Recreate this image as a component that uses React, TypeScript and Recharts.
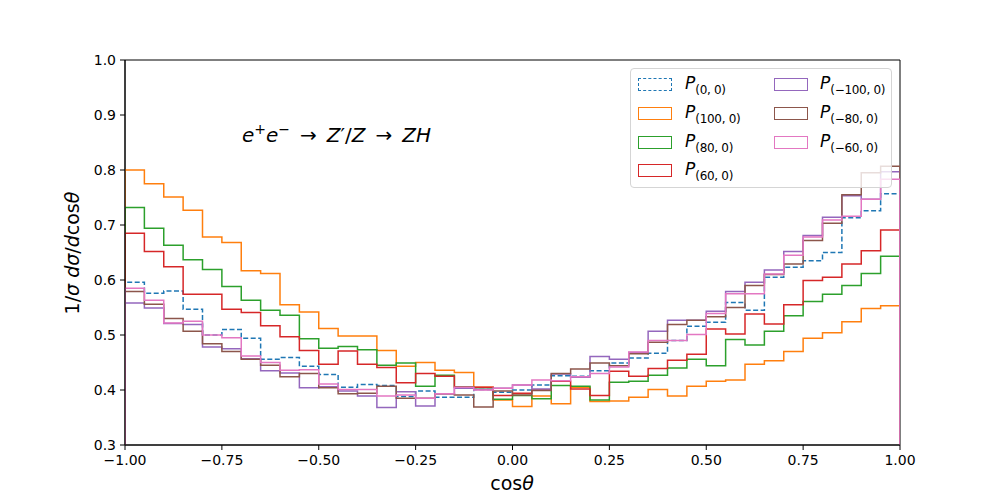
import React from 'react';
import { LineChart, Line, XAxis, YAxis, ReferenceArea } from 'recharts';

// bin edges of the cos(theta) histogram
const binEdges = [
  -1, -0.95, -0.9, -0.85, -0.8, -0.75, -0.7, -0.65, -0.6, -0.55,
  -0.5, -0.45, -0.4, -0.35, -0.3, -0.25, -0.2, -0.15, -0.1, -0.05,
  0, 0.05, 0.1, 0.15, 0.2, 0.25, 0.3, 0.35, 0.4, 0.45,
  0.5, 0.55, 0.6, 0.65, 0.7, 0.75, 0.8, 0.85, 0.9, 0.95, 1,
];

const xTicks = [-1, -0.75, -0.5, -0.25, 0, 0.25, 0.5, 0.75, 1];
const yTicks = [0.3, 0.4, 0.5, 0.6, 0.7, 0.8, 0.9, 1.0];

// normalised distributions, one value per bin
const p00 = [
  0.596, 0.576, 0.580, 0.547, 0.500, 0.510, 0.494, 0.456, 0.459, 0.443,
  0.428, 0.405, 0.410, 0.408, 0.388, 0.398, 0.387, 0.387, 0.401, 0.396,
  0.400, 0.409, 0.426, 0.425, 0.435, 0.449, 0.458, 0.467, 0.490, 0.516,
  0.523, 0.559, 0.545, 0.605, 0.623, 0.635, 0.650, 0.713, 0.726, 0.757,
];
const p100 = [
  0.800, 0.775, 0.751, 0.727, 0.678, 0.668, 0.617, 0.612, 0.555, 0.542,
  0.512, 0.498, 0.498, 0.472, 0.443, 0.450, 0.436, 0.432, 0.405, 0.382,
  0.370, 0.389, 0.375, 0.405, 0.379, 0.380, 0.387, 0.401, 0.389, 0.407,
  0.416, 0.418, 0.447, 0.453, 0.470, 0.494, 0.504, 0.524, 0.548, 0.553,
];
const p80 = [
  0.732, 0.694, 0.663, 0.637, 0.619, 0.588, 0.563, 0.545, 0.536, 0.493,
  0.476, 0.479, 0.473, 0.445, 0.449, 0.407, 0.427, 0.406, 0.404, 0.383,
  0.390, 0.384, 0.408, 0.407, 0.382, 0.414, 0.416, 0.427, 0.440, 0.456,
  0.444, 0.492, 0.482, 0.507, 0.535, 0.561, 0.574, 0.590, 0.612, 0.643,
];
const p60 = [
  0.685, 0.652, 0.624, 0.574, 0.574, 0.547, 0.541, 0.517, 0.497, 0.472,
  0.447, 0.471, 0.447, 0.441, 0.413, 0.430, 0.425, 0.405, 0.405, 0.390,
  0.394, 0.400, 0.416, 0.402, 0.390, 0.434, 0.425, 0.439, 0.454, 0.465,
  0.511, 0.502, 0.538, 0.520, 0.555, 0.599, 0.605, 0.629, 0.653, 0.691,
];
const pm100 = [
  0.558, 0.549, 0.521, 0.519, 0.478, 0.475, 0.457, 0.435, 0.431, 0.404,
  0.406, 0.398, 0.389, 0.368, 0.397, 0.371, 0.393, 0.403, 0.401, 0.403,
  0.409, 0.402, 0.429, 0.423, 0.461, 0.456, 0.468, 0.507, 0.527, 0.527,
  0.543, 0.579, 0.596, 0.618, 0.652, 0.681, 0.714, 0.753, 0.747, 0.797,
];
const pm80 = [
  0.579, 0.556, 0.530, 0.507, 0.484, 0.470, 0.456, 0.445, 0.424, 0.430,
  0.404, 0.393, 0.394, 0.407, 0.385, 0.385, 0.393, 0.391, 0.369, 0.398,
  0.391, 0.399, 0.430, 0.438, 0.449, 0.444, 0.466, 0.487, 0.519, 0.527,
  0.533, 0.550, 0.590, 0.610, 0.629, 0.672, 0.703, 0.755, 0.795, 0.807,
];
const pm60 = [
  0.585, 0.563, 0.522, 0.525, 0.500, 0.495, 0.462, 0.450, 0.436, 0.437,
  0.411, 0.401, 0.401, 0.389, 0.391, 0.385, 0.393, 0.405, 0.400, 0.403,
  0.409, 0.418, 0.417, 0.424, 0.430, 0.442, 0.469, 0.490, 0.490, 0.501,
  0.539, 0.575, 0.575, 0.611, 0.645, 0.678, 0.709, 0.716, 0.747, 0.783,
];

const series = [
  { label: '(0, 0)', values: p00, color: '#1f77b4', dashed: true },
  { label: '(100, 0)', values: p100, color: '#ff7f0e', dashed: false },
  { label: '(80, 0)', values: p80, color: '#2ca02c', dashed: false },
  { label: '(60, 0)', values: p60, color: '#d62728', dashed: false },
  { label: '(\u2212100, 0)', values: pm100, color: '#9467bd', dashed: false },
  { label: '(\u221280, 0)', values: pm80, color: '#8c564b', dashed: false },
  { label: '(\u221260, 0)', values: pm60, color: '#e377c2', dashed: false },
];

// outline of a step histogram: up from the baseline, across each bin, back down
function toSteps(values: number[]) {
  const pts = [{ x: binEdges[0], y: 0 }];
  values.forEach((v, i) => pts.push({ x: binEdges[i], y: v }));
  const last = values[values.length - 1];
  pts.push({ x: binEdges[binEdges.length - 1], y: last });
  pts.push({ x: binEdges[binEdges.length - 1], y: 0 });
  return pts;
}

const fmtX = (v: number) => (v < 0 ? '\u2212' + Math.abs(v).toFixed(2) : v.toFixed(2));
const fmtY = (v: number) => v.toFixed(1);

const font = '"DejaVu Sans", sans-serif';

function LegendBox() {
  const rows = [16, 45, 74, 102];
  return (
    <div
      style={{
        position: 'absolute', left: 630, top: 68, width: 262, height: 120,
        border: '1px solid #d5d5d5', borderRadius: 4, boxSizing: 'border-box',
        background: 'rgba(255,255,255,0.8)',
      }}
    >
      {series.map((s, i) => {
        const col = i < 4 ? 0 : 1;
        const row = i < 4 ? i : i - 4;
        const top = rows[row];
        return (
          <div key={s.label}>
            <div
              style={{
                position: 'absolute', left: col === 0 ? 7 : 143, top: top - 7,
                width: 34, height: 13, boxSizing: 'border-box',
                border: `1.5px ${s.dashed ? 'dashed' : 'solid'} ${s.color}`,
              }}
            />
            <div
              style={{
                position: 'absolute', left: col === 0 ? 54 : 189, top: top - 12,
                whiteSpace: 'nowrap', fontFamily: font, lineHeight: '20px',
              }}
            >
              <span style={{ fontStyle: 'italic', fontSize: 17 }}>P</span>
              <span style={{ fontSize: 12, position: 'relative', top: 5, letterSpacing: -0.3 }}>{s.label}</span>
            </div>
          </div>
        );
      })}
    </div>
  );
}

export default function App() {
  return (
    <div style={{ position: 'absolute', left: 0, top: 0, width: 1000, height: 500, background: '#fff', fontFamily: font }}>
      <LineChart width={1000} height={500} margin={{ top: 60, right: 100, bottom: 25, left: 65 }}>
        <XAxis
          type="number"
          dataKey="x"
          domain={[-1, 1]}
          ticks={xTicks}
          allowDataOverflow
          tickFormatter={fmtX}
          height={30}
          tickSize={5}
          tickMargin={5}
          axisLine={{ stroke: '#000' }}
          tickLine={{ stroke: '#000' }}
          tick={{ fill: '#000', fontSize: 14, fontFamily: font }}
        />
        <YAxis
          type="number"
          domain={[0.3, 1.0]}
          ticks={yTicks}
          allowDataOverflow
          tickFormatter={fmtY}
          width={60}
          tickSize={5}
          tickMargin={4}
          axisLine={{ stroke: '#000' }}
          tickLine={{ stroke: '#000' }}
          tick={{ fill: '#000', fontSize: 14, fontFamily: font }}
        />
        {series.map((s) => (
          <Line
            key={s.label}
            data={toSteps(s.values)}
            dataKey="y"
            type="stepAfter"
            stroke={s.color}
            strokeWidth={1.5}
            strokeDasharray={s.dashed ? '5 2.5' : undefined}
            dot={false}
            activeDot={false}
            isAnimationActive={false}
          />
        ))}
        <ReferenceArea x1={-1} x2={1} y1={0.3} y2={1.0} fill="none" stroke="#000" strokeWidth={1} ifOverflow="visible" />
      </LineChart>

      <LegendBox />

      <div style={{ position: 'absolute', left: 242, top: 121, fontSize: 20, whiteSpace: 'nowrap' }}>
        <i>e</i><sup style={{ fontSize: 14 }}>+</sup><i>e</i><sup style={{ fontSize: 14 }}>{'\u2212'}</sup>
        {'\u2002\u2192\u2002'}<i>Z</i>{'\u2032/'}<i>Z</i>{'\u2002\u2192\u2002'}<i>ZH</i>
      </div>

      <div style={{ position: 'absolute', left: 512, top: 472, transform: 'translateX(-50%)', fontSize: 19, whiteSpace: 'nowrap' }}>
        cos<i>{'\u03b8'}</i>
      </div>

      <div
        style={{
          position: 'absolute', left: 72, top: 253, fontSize: 19, whiteSpace: 'nowrap',
          transform: 'translate(-50%, -50%) rotate(-90deg)',
        }}
      >
        1/<i>{'\u03c3'}</i> <i>d{'\u03c3'}</i>/<i>d</i>cos<i>{'\u03b8'}</i>
      </div>
    </div>
  );
}
